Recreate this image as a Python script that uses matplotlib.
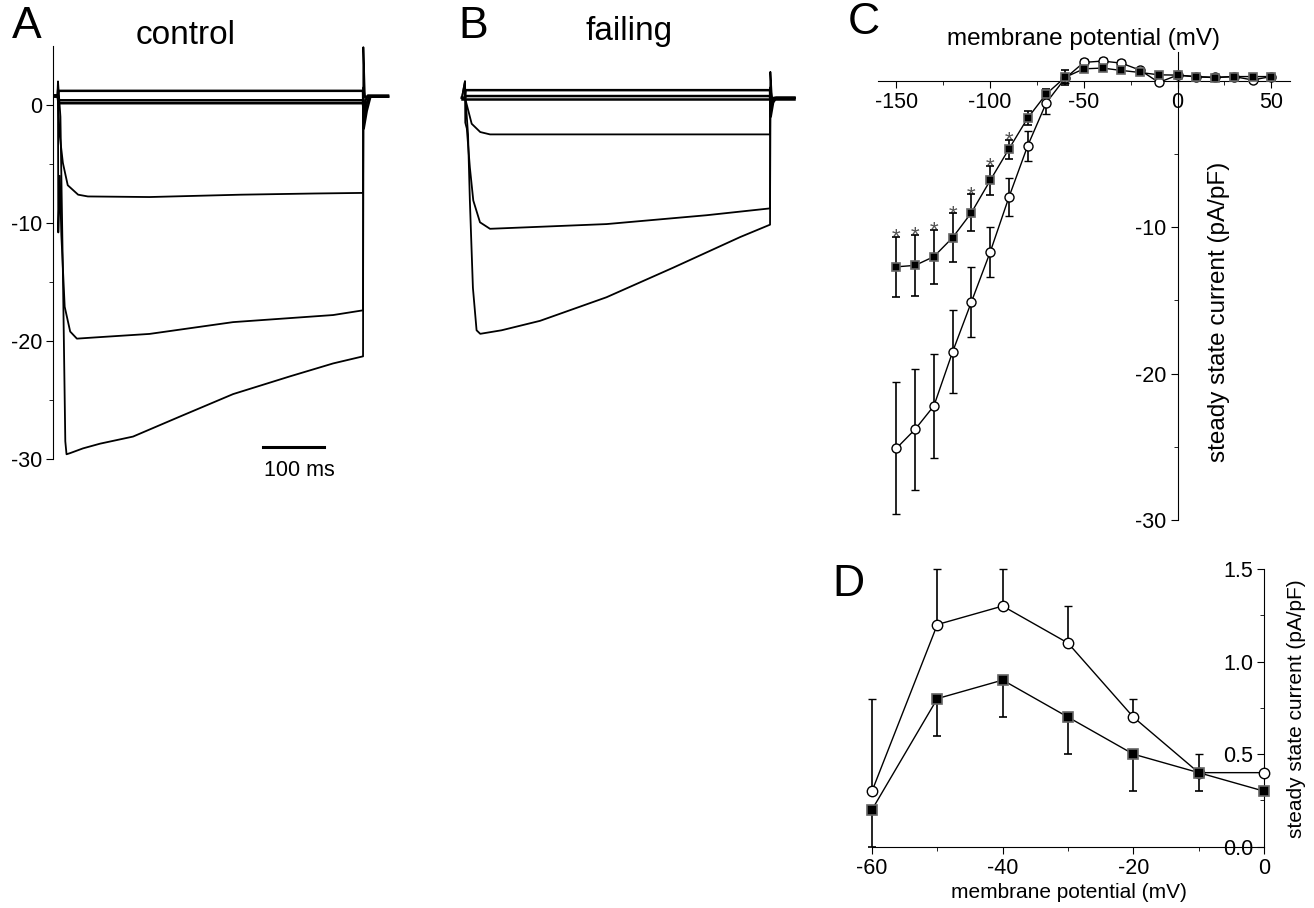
import matplotlib
matplotlib.use("Agg")
import matplotlib.pyplot as plt
from matplotlib.ticker import FixedLocator

plt.rcParams['font.family'] = ['Liberation Sans', 'DejaVu Sans']

# ---- panel A: control current traces (time in ms, current in pA/pF) ----
a_traces = [
    ([-5, -1, 0, 4, 8, 12, 14, 20, 41, 69, 123, 200, 287, 380, 451, 500, 500.5, 503, 541],
     [0.7, 0.7, 2.0, -1, -14, -28.5, -29.6, -29.5, -29.1, -28.7, -28.1, -26.4, -24.5, -23.0, -21.9, -21.3, 4.9, 0.7, 0.7]),
    ([-5, -1, 0, 0.5, 3, 5.5, 11, 20, 31, 60, 150, 287, 451, 500, 500.5, 503, 541],
     [0.7, 0.7, 1.5, -10.8, -6, -11, -17.1, -19.2, -19.8, -19.7, -19.4, -18.4, -17.8, -17.4, 1.5, 0.7, 0.7]),
    ([-5, -1, 0, 2.5, 8, 16, 33, 49, 150, 300, 420, 500, 500.5, 503, 541],
     [0.7, 0.7, 0.3, -2.4, -4.9, -6.8, -7.6, -7.75, -7.8, -7.6, -7.5, -7.45, 1.0, 0.7, 0.7]),
]
a_flat = [
    ([-5, 0, 1, 500, 501, 506, 512, 541],
     [0.8, 0.8, 1.2, 1.2, -2.0, -0.5, 0.7, 0.7]),
    ([-5, 0, 1, 500, 501, 505, 510, 541],
     [0.8, 0.8, 0.4, 0.4, -1.3, 0.0, 0.7, 0.7]),
    ([-5, 0, 1, 500, 501, 504, 508, 541],
     [0.8, 0.8, 0.15, 0.15, -0.6, 0.4, 0.8, 0.8]),
]

# ---- panel B: failing current traces ----
b_traces = [
    ([-5, 0, 0.5, 5, 8, 13, 19, 25, 60, 123, 232, 341, 451, 500, 500.5, 503, 540],
     [0.1, 1.5, 0.3, -3, -8.6, -16, -19.6, -19.9, -19.6, -18.8, -16.8, -14.3, -11.7, -10.65, 2.3, 0.1, 0.1]),
    ([-5, 0, 0.5, 3, 8, 13.6, 24.6, 41, 232, 396, 500, 500.5, 503, 540],
     [0.1, 1.5, -2, -2.5, -5.8, -8.6, -10.45, -11.0, -10.6, -9.85, -9.27, 1.0, 0.1, 0.1]),
    ([-5, 0, 5.5, 11, 25, 41, 300, 500, 500.5, 503, 540],
     [0.1, 0.1, -1.0, -2.1, -2.8, -3.0, -3.0, -3.0, 0.5, 0.1, 0.1]),
]
b_flat = [
    ([-5, 0, 1, 500, 501, 505, 510, 540],
     [0.1, 0.1, 0.75, 0.75, -1.5, -0.3, 0.1, 0.1]),
    ([-5, 0, 1, 500, 501, 504, 508, 540],
     [0.1, 0.1, 0.25, 0.25, -0.9, 0.0, 0.1, 0.1]),
    ([-5, 540], [0.0, 0.0]),
]

# ---- panel C: steady state I-V ----
c_voltage = [-150, -140, -130, -120, -110, -100, -90, -80, -70, -60, -50,
             -40, -30, -20, -10, 0, 10, 20, 30, 40, 50]
c_control = [-25.1, -23.8, -22.2, -18.5, -15.1, -11.7, -7.95, -4.44, -1.48, 0.18, 1.27,
             1.36, 1.22, 0.74, -0.1, 0.4, 0.3, 0.25, 0.3, 0.07, 0.3]
c_control_err = [4.5, 4.15, 3.55, 2.85, 2.4, 1.7, 1.3, 1.0, 0.75, 0.3, 0.2,
                 0.2, 0.2, 0.15, 0.1, 0.1, 0.1, 0.1, 0.1, 0.1, 0.1]
c_failing = [-12.7, -12.6, -12.0, -10.7, -9.0, -6.8, -4.65, -2.54, -0.88, 0.25, 0.83,
             0.88, 0.72, 0.58, 0.42, 0.4, 0.28, 0.23, 0.3, 0.3, 0.3]
c_failing_err = [2.05, 2.1, 1.85, 1.65, 1.25, 1.0, 0.65, 0.5, 0.3, 0.5, 0.15,
                 0.15, 0.15, 0.1, 0.1, 0.1, 0.1, 0.1, 0.1, 0.1, 0.1]
c_signif = [-150, -140, -130, -120, -110, -100, -90]

# ---- panel D: zoom on outward component ----
d_voltage = [-60, -50, -40, -30, -20, -10, 0]
d_control = [0.3, 1.2, 1.3, 1.1, 0.7, 0.4, 0.4]
d_control_err = [0.5, 0.3, 0.2, 0.2, 0.1, 0.1, 0.0]
d_failing = [0.2, 0.8, 0.9, 0.7, 0.5, 0.4, 0.3]
d_failing_err = [0.2, 0.2, 0.2, 0.2, 0.2, 0.1, 0.0]

W, H = 1314, 908
fig = plt.figure(figsize=(W / 100, H / 100), dpi=100)


def rect(l, t, r, b):
    return [l / W, 1 - b / H, (r - l) / W, (b - t) / H]


def ftext(x, y, s, **kw):
    fig.text(x / W, 1 - y / H, s, **kw)


# panel A
axA = fig.add_axes(rect(53.1, 46, 390.5, 459))
for t, i in a_traces:
    axA.plot(t, i, color='black', lw=1.3, clip_on=False)
for t, i in a_flat:
    axA.plot(t, i, color='black', lw=1.8, clip_on=False)
axA.set_xlim(-8, 545)
axA.set_ylim(-30, 5)
for s in ['top', 'right', 'bottom']:
    axA.spines[s].set_visible(False)
axA.xaxis.set_visible(False)
axA.yaxis.set_major_locator(FixedLocator([0, -10, -20, -30]))
axA.yaxis.set_minor_locator(FixedLocator([-5, -15, -25]))
axA.tick_params(axis='y', which='major', length=5, labelsize=15.5, pad=3)
axA.tick_params(axis='y', which='minor', length=3)
axA.set_yticklabels(['0', '-10', '-20', '-30'])

# 100 ms scale bar
bar_start, bar_len, bar_level = 336, 100, -28.96
axA.plot([bar_start, bar_start + bar_len], [bar_level, bar_level], color='black', lw=2.2, clip_on=False)
ftext(299, 471, '100 ms', ha='center', va='center', fontsize=15.5)

# panel B
axB = fig.add_axes(rect(460.1, 40, 797.5, 453))
for t, i in b_traces:
    axB.plot(t, i, color='black', lw=1.3, clip_on=False)
for t, i in b_flat:
    axB.plot(t, i, color='black', lw=1.8, clip_on=False)
axB.set_xlim(-8, 545)
axB.set_ylim(-30, 5)
axB.axis('off')

# panel C
axC = fig.add_axes(rect(877.7, 51.7, 1290, 520))
axC.errorbar(c_voltage, c_control, yerr=c_control_err, color='black', lw=1.0,
             elinewidth=1.2, capsize=3, marker='o', ms=6.5, mfc='white', mec='black', mew=1.0,
             clip_on=False, zorder=3)
axC.errorbar(c_voltage, c_failing, yerr=c_failing_err, color='black', lw=1.0,
             elinewidth=1.2, capsize=3, marker='s', ms=5.5, mfc='black', mec='#666666', mew=1.2,
             clip_on=False, zorder=4)
for v in c_signif:
    k = c_voltage.index(v)
    axC.text(v, c_failing[k] + c_failing_err[k] - 0.45, '*', ha='center', va='baseline',
             fontsize=16, color='#555555')
axC.set_xlim(-160, 60)
axC.set_ylim(-30, 2)
axC.spines['left'].set_position(('data', 0))
axC.spines['bottom'].set_position(('data', 0))
axC.spines['top'].set_visible(False)
axC.spines['right'].set_visible(False)
axC.xaxis.set_major_locator(FixedLocator([-150, -100, -50, 0, 50]))
axC.xaxis.set_minor_locator(FixedLocator([-125, -75, -25, 25]))
axC.yaxis.set_major_locator(FixedLocator([-10, -20, -30]))
axC.yaxis.set_minor_locator(FixedLocator([-5, -15, -25]))
axC.set_yticklabels(['-10', '-20', '-30'])
axC.set_xticklabels(['-150', '-100', '-50', '0', '50'])
axC.tick_params(which='major', length=5, labelsize=15.5, pad=3)
axC.tick_params(which='minor', length=3)
ftext(1083.5, 45, 'membrane potential (mV)', ha='center', va='baseline', fontsize=17.5)
ftext(1219, 312, 'steady state current (pA/pF)', ha='center', va='center', rotation=90, fontsize=17.5)

# panel D
axD = fig.add_axes(rect(872, 569, 1264, 846.7))
axD.errorbar(d_voltage, d_control, yerr=[[0] * len(d_control), d_control_err], color='black',
             lw=1.0, elinewidth=1.2, capsize=3, marker='o', ms=7.5, mfc='white', mec='black',
             mew=1.0, clip_on=False, zorder=3)
axD.errorbar(d_voltage, d_failing, yerr=[d_failing_err, [0] * len(d_failing)], color='black',
             lw=1.0, elinewidth=1.2, capsize=3, marker='s', ms=6.5, mfc='black', mec='#666666',
             mew=1.2, clip_on=False, zorder=4)
axD.set_xlim(-60, 0)
axD.set_ylim(0, 1.5)
axD.spines['left'].set_position(('data', 0))
axD.spines['top'].set_visible(False)
axD.spines['right'].set_visible(False)
axD.xaxis.set_major_locator(FixedLocator([-60, -40, -20, 0]))
axD.xaxis.set_minor_locator(FixedLocator([-50, -30, -10]))
axD.yaxis.set_major_locator(FixedLocator([0, 0.5, 1.0, 1.5]))
axD.yaxis.set_minor_locator(FixedLocator([0.25, 0.75, 1.25]))
axD.set_yticklabels(['0.0', '0.5', '1.0', '1.5'])
axD.set_xticklabels(['-60', '-40', '-20', '0'])
axD.tick_params(which='major', length=5, labelsize=15.5, pad=3)
axD.tick_params(which='minor', length=3)
ftext(1068.5, 893, 'membrane potential (mV)', ha='center', va='center', fontsize=15)
ftext(1297, 709, 'steady state current (pA/pF)', ha='center', va='center', rotation=90, fontsize=15)

# panel letters and titles
ftext(27, 26, 'A', ha='center', va='center', fontsize=32)
ftext(473, 26, 'B', ha='center', va='center', fontsize=32)
ftext(864, 23, 'C', ha='center', va='center', fontsize=32)
ftext(848, 584, 'D', ha='center', va='center', fontsize=32)
ftext(186, 44, 'control', ha='center', va='baseline', fontsize=24)
ftext(629, 40, 'failing', ha='center', va='baseline', fontsize=24)

fig.savefig('out.png', dpi=100)
